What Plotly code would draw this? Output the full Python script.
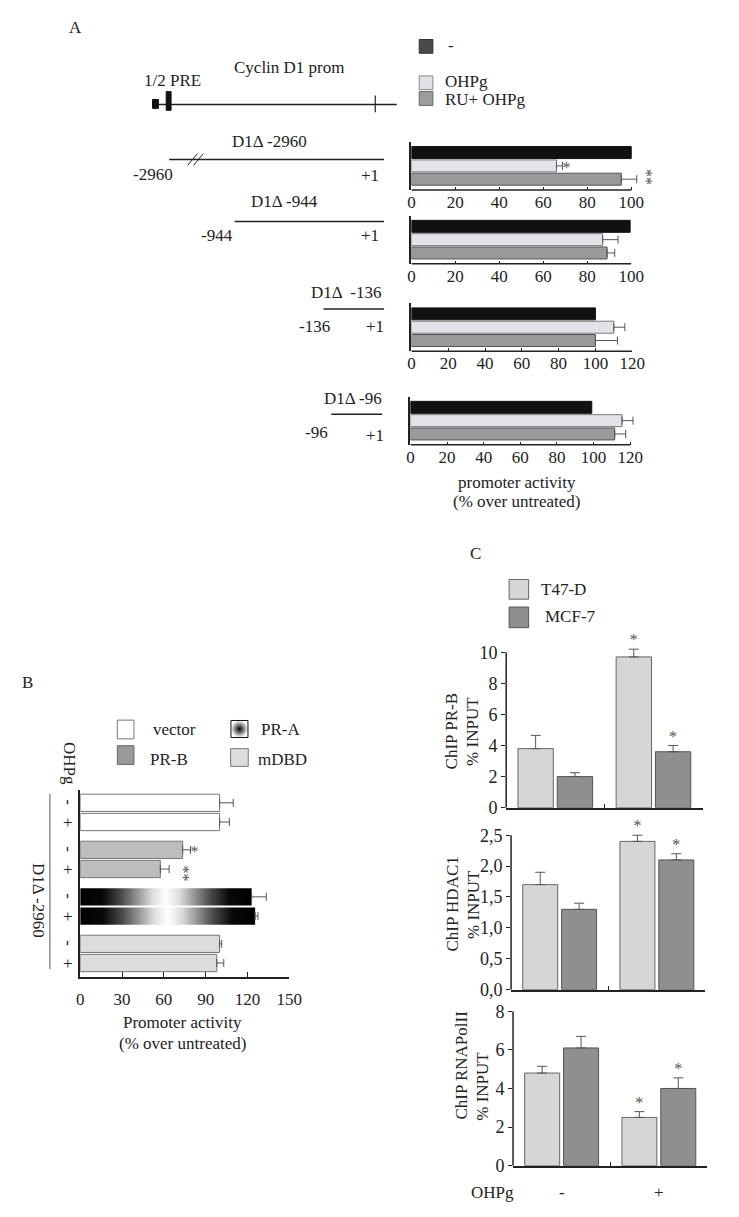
import plotly.graph_objects as go

W, H = 739, 1217
FONT = "Liberation Serif, Times New Roman, serif"
INK = "#222222"
ERR = "#555555"
STAR = "#555555"

# ---------------- data : panel A ----------------
a_conditions = ["-", "OHPg", "RU+ OHPg"]
a_constructs = ["D1Δ -2960", "D1Δ -944", "D1Δ  -136", "D1Δ -96"]
a_vals_2960 = [100, 66, 95.5]
a_err_2960 = [None, 2.7, 7]
a_vals_944 = [99.5, 87, 89]
a_err_944 = [None, 7, 3.5]
a_vals_136 = [100, 110, 100]
a_err_136 = [None, 6, 12]
a_vals_96 = [99, 115.5, 111.5]
a_err_96 = [None, 6, 6]
a_ticks_100 = [0, 20, 40, 60, 80, 100]
a_ticks_120 = [0, 20, 40, 60, 80, 100, 120]

# ---------------- data : panel B ----------------
b_constructs = ["vector", "PR-B", "PR-A", "mDBD"]
b_ohpg = ["-", "+"]
b_vector = [100, 100]
b_vector_err = [9.8, 7]
b_prb = [73.5, 57.5]
b_prb_err = [5.6, 6.3]
b_pra = [123, 125.5]
b_pra_err = [10.5, 2]
b_mdbd = [100, 98]
b_mdbd_err = [1.5, 5]
b_ticks = [0, 30, 60, 90, 120, 150]

# ---------------- data : panel C ----------------
c_lines = ["T47-D", "MCF-7"]
c_ohpg = ["-", "+"]
c_prb_t47 = [3.8, 9.7]
c_prb_t47_err = [0.85, 0.5]
c_prb_mcf = [2.0, 3.6]
c_prb_mcf_err = [0.25, 0.4]
c_hdac_t47 = [1.7, 2.4]
c_hdac_t47_err = [0.2, 0.1]
c_hdac_mcf = [1.3, 2.1]
c_hdac_mcf_err = [0.1, 0.1]
c_pol_t47 = [4.8, 2.5]
c_pol_t47_err = [0.35, 0.3]
c_pol_mcf = [6.1, 4.0]
c_pol_mcf_err = [0.6, 0.55]
c_prb_ticks = [0, 2, 4, 6, 8, 10]
c_hdac_ticks = [0, 0.5, 1.0, 1.5, 2.0, 2.5]
c_hdac_ticktext = ["0,0", "0,5", "1,0", "1,5", "2,0", "2,5"]
c_pol_ticks = [0, 2, 4, 6, 8]

# ---------------- helpers ----------------
def aid(n):
    return "" if n == 1 else str(n)


def xd(a, b):
    return [a / W, b / W]


def yd(top, bottom):
    return [1 - bottom / H, 1 - top / H]


fig = go.Figure()
layout = dict(
    width=W, height=H, autosize=False,
    margin=dict(l=0, r=0, t=0, b=0, pad=0),
    paper_bgcolor="white", plot_bgcolor="rgba(0,0,0,0)",
    showlegend=False, barmode="overlay",
    font=dict(family=FONT, size=17, color=INK),
)
ann = []
shp = []


def txt(x, y, s, size=17, xanchor="center", angle=0, xref="x9", yref="y9",
        color=INK, xshift=0, yshift=0):
    ann.append(dict(x=x, y=y, text=s, xref=xref, yref=yref, showarrow=False,
                    xanchor=xanchor, yanchor="middle", textangle=angle,
                    font=dict(family=FONT, size=size, color=color),
                    xshift=xshift, yshift=yshift))


def line(x0, y0, x1, y1, w=1.5, color=INK):
    shp.append(dict(type="line", x0=x0, y0=y0, x1=x1, y1=y1, xref="x9", yref="y9",
                    line=dict(color=color, width=w)))


def rect(x0, y0, x1, y1, fill, edge, w=1):
    shp.append(dict(type="rect", x0=x0, y0=y0, x1=x1, y1=y1, xref="x9", yref="y9",
                    fillcolor=fill, line=dict(color=edge, width=w)))


def xaxis_line(n, xmax):
    i = aid(n)
    shp.append(dict(type="line", xref="x" + i, yref="y" + i + " domain", x0=0, x1=xmax,
                    y0=0, y1=0, line=dict(color=INK, width=1.5)))


def yaxis_line(n, ymax):
    i = aid(n)
    shp.append(dict(type="line", xref="x" + i + " domain", yref="y" + i, x0=0, x1=0,
                    y0=0, y1=ymax, line=dict(color=INK, width=1.5)))


def stars(n, xs, ys, pos):
    fig.add_trace(go.Scatter(
        x=xs, y=ys, mode="text", text=["*"] * len(xs), textposition=pos,
        textfont=dict(family=FONT, size=16, color=STAR), cliponaxis=False,
        xaxis="x" + aid(n), yaxis="y" + aid(n), hoverinfo="skip"))


def add_herr(n, vals, errs, pos):
    xs = [v for v, e in zip(vals, errs) if e is not None]
    ys = [p for p, e in zip(pos, errs) if e is not None]
    es = [e for e in errs if e is not None]
    fig.add_trace(go.Scatter(
        x=xs, y=ys, mode="markers", marker=dict(size=1, color="rgba(0,0,0,0)"),
        error_x=dict(type="data", array=es, arrayminus=[0] * len(es), symmetric=False,
                     color=ERR, thickness=1, width=4),
        cliponaxis=False, xaxis="x" + aid(n), yaxis="y" + aid(n), hoverinfo="skip"))


def add_verr(n, vals, errs, pos):
    fig.add_trace(go.Scatter(
        x=pos, y=vals, mode="markers", marker=dict(size=1, color="rgba(0,0,0,0)"),
        error_y=dict(type="data", array=errs, arrayminus=[0] * len(errs), symmetric=False,
                     color=ERR, thickness=1, width=5),
        cliponaxis=False, xaxis="x" + aid(n), yaxis="y" + aid(n), hoverinfo="skip"))


# ---------------- panel A bars ----------------
# (values, errors, ticks, nominal axis end, px of 0, px of axis end, y px top/bottom)
a_panels = [
    (a_vals_2960, a_err_2960, a_ticks_100, 100, 417, 642, (134, 183)),
    (a_vals_944, a_err_944, a_ticks_100, 100, 417, 642, (209, 258)),
    (a_vals_136, a_err_136, a_ticks_120, 120, 417, 643, (298, 347)),
    (a_vals_96, a_err_96, a_ticks_120, 120, 416, 641, (393, 442)),
]
a_pos = [2, 1, 0]
a_fill = ["#111111", "#e4e2e6", "#9a9a9a"]
a_edge = ["#111111", "#7a7a7a", "#555555"]

for k, (vals, errs, ticks, xend, p0, p1, ypx) in enumerate(a_panels):
    n = k + 1
    i = aid(n)
    reach = max(v + (e or 0) for v, e in zip(vals, errs))
    xmax = max(xend, reach + 0.6)
    scale = (p1 - p0) / xend
    fig.add_trace(go.Bar(x=vals, y=a_pos, orientation="h", width=0.9,
                         marker=dict(color=a_fill, line=dict(color=a_edge, width=1)),
                         xaxis="x" + i, yaxis="y" + i, hoverinfo="skip"))
    add_herr(n, vals, errs, a_pos)
    layout["xaxis" + i] = dict(domain=xd(p0, p0 + scale * xmax), range=[0, xmax],
                               anchor="y" + i, showgrid=False, zeroline=False,
                               showline=False, ticks="inside", ticklen=3,
                               tickcolor=INK, tickvals=ticks,
                               tickfont=dict(family=FONT, size=17, color=INK))
    layout["yaxis" + i] = dict(domain=yd(*ypx), range=[-0.81, 2.81], anchor="x" + i,
                               showgrid=False, zeroline=False, showline=True,
                               linecolor=INK, linewidth=1.5, showticklabels=False, ticks="")
    xaxis_line(n, xend)

# stars panel A (first construct): one on OHPg, two stacked on RU+OHPg
ax_end = [v + e for v, e in zip(a_vals_2960[1:], a_err_2960[1:])]
stars(1, [ax_end[0]], [a_pos[1] - 0.22], "middle right")
txt(ax_end[1], a_pos[2], "**", 16, xanchor="left", angle=90, xref="x", yref="y",
    color=STAR, xshift=0, yshift=2)

# ---------------- panel B ----------------
b_pos = [g * 2.45 + k for g in range(4) for k in (0, 1)]
fig.add_trace(go.Bar(x=b_vector, y=b_pos[0:2], orientation="h", width=0.9,
                     marker=dict(color="white", line=dict(color="#777", width=1)),
                     xaxis="x5", yaxis="y5", hoverinfo="skip"))
fig.add_trace(go.Bar(x=b_prb, y=b_pos[2:4], orientation="h", width=0.9,
                     marker=dict(color="#bdbdbd", line=dict(color="#777", width=1)),
                     xaxis="x5", yaxis="y5", hoverinfo="skip"))
pra_scale = [[0, "#000000"], [0.13, "#080808"], [0.24, "#4a4a4a"], [0.34, "#9a9a9a"],
             [0.42, "#dcdcdc"], [0.5, "#ffffff"], [0.58, "#dcdcdc"], [0.66, "#9a9a9a"],
             [0.76, "#4a4a4a"], [0.87, "#080808"], [1, "#000000"]]
for v, p in zip(b_pra, b_pos[4:6]):
    fig.add_trace(go.Scatter(
        x=[0, v, v, 0, 0], y=[p - 0.45, p - 0.45, p + 0.45, p + 0.45, p - 0.45],
        mode="lines", line=dict(width=0, color="rgba(0,0,0,0)"), fill="toself",
        fillgradient=dict(type="horizontal", colorscale=pra_scale),
        xaxis="x5", yaxis="y5", hoverinfo="skip"))
fig.add_trace(go.Bar(x=b_mdbd, y=b_pos[6:8], orientation="h", width=0.9,
                     marker=dict(color="#dcdcdc", line=dict(color="#777", width=1)),
                     xaxis="x5", yaxis="y5", hoverinfo="skip"))
add_herr(5, b_vector + b_prb + b_pra + b_mdbd,
         b_vector_err + b_prb_err + b_pra_err + b_mdbd_err, b_pos)
layout["xaxis5"] = dict(domain=xd(78, 292), range=[0, 150], anchor="y5",
                        showgrid=False, zeroline=False, showline=True, linecolor=INK,
                        linewidth=1.5, ticks="inside", ticklen=5, tickcolor=INK,
                        tickvals=b_ticks, ticklabelstandoff=6,
                        tickfont=dict(family=FONT, size=17, color=INK))
layout["yaxis5"] = dict(domain=yd(793, 983), range=[9.07, -0.67], anchor="x5",
                        showgrid=False, zeroline=False, showline=True, linecolor=INK,
                        linewidth=1.5, showticklabels=False, ticks="")

for p, lab in zip(b_pos, b_ohpg * 4):
    txt(66, p, lab, 17, yref="y5", angle=90 if lab == "-" else 0)

b_end = [v + e for v, e in zip(b_prb, b_prb_err)]
stars(5, [b_end[0]], [b_pos[2] + 0.15], "middle right")
txt(b_end[1], b_pos[3], "**", 16, xanchor="left", angle=90, xref="x5", yref="y5",
    color=STAR, xshift=4, yshift=-4)

# ---------------- panel C ----------------
c_groups = [0.5, 1.5]
c_t47_pos = [g - 0.2 for g in c_groups]
c_mcf_pos = [g + 0.2 for g in c_groups]
# (axis n, t47, err, mcf, err, nominal top, ticks, ticktext, x px, y px of 0, y px of top)
c_panels = [
    (6, c_prb_t47, c_prb_t47_err, c_prb_mcf, c_prb_mcf_err, 10, c_prb_ticks, None,
     (514, 715), 811, 653),
    (7, c_hdac_t47, c_hdac_t47_err, c_hdac_mcf, c_hdac_mcf_err, 2.5, c_hdac_ticks,
     c_hdac_ticktext, (519, 718), 996, 839),
    (8, c_pol_t47, c_pol_t47_err, c_pol_mcf, c_pol_mcf_err, 8, c_pol_ticks, None,
     (521, 720), 1175, 1018),
]
for n, t, te, m, me, ytop, yt, ytt, xpx, y0px, y1px in c_panels:
    i = aid(n)
    reach = max([a + b for a, b in zip(t, te)] + [a + b for a, b in zip(m, me)])
    ymax = max(ytop, reach * 1.01)
    scale = (y0px - y1px) / ytop
    fig.add_trace(go.Bar(x=c_t47_pos, y=t, width=0.36,
                         marker=dict(color="#d6d6d8", line=dict(color="#666", width=1)),
                         xaxis="x" + i, yaxis="y" + i, hoverinfo="skip"))
    fig.add_trace(go.Bar(x=c_mcf_pos, y=m, width=0.36,
                         marker=dict(color="#8f8f8f", line=dict(color="#555", width=1)),
                         xaxis="x" + i, yaxis="y" + i, hoverinfo="skip"))
    add_verr(n, t, te, c_t47_pos)
    add_verr(n, m, me, c_mcf_pos)
    layout["xaxis" + i] = dict(domain=xd(*xpx), range=[0, 2], anchor="y" + i,
                               showgrid=False, zeroline=False, showline=True,
                               linecolor=INK, linewidth=1.5, ticks="inside", ticklen=4,
                               tickcolor=INK, tickvals=[1, 2], showticklabels=False)
    ydict = dict(domain=yd(y0px - scale * ymax, y0px), range=[0, ymax], anchor="x" + i,
                 showgrid=False, zeroline=False, showline=False,
                 ticks="outside", ticklen=4, tickcolor=INK, tickvals=yt,
                 tickfont=dict(family=FONT, size=18, color=INK))
    if ytt:
        ydict["ticktext"] = ytt
    layout["yaxis" + i] = ydict
    yaxis_line(n, ytop)
    # significance stars on treated (+) bars
    stars(n, [c_t47_pos[1], c_mcf_pos[1]], [t[1] + te[1], m[1] + me[1]], "top center")

# overlay axis in pixel units for schematic / legends / labels
layout["xaxis9"] = dict(domain=[0, 1], range=[0, W], visible=False, anchor="y9")
layout["yaxis9"] = dict(domain=[0, 1], range=[H, 0], visible=False, anchor="x9")
fig.add_trace(go.Scatter(x=[241], y=[731], mode="markers", xaxis="x9", yaxis="y9",
                         marker=dict(symbol="square", size=17, color="white",
                                     gradient=dict(type="radial", color="black"),
                                     line=dict(color="#111", width=1)),
                         hoverinfo="skip"))

# ---------------- panel A schematic ----------------
txt(73, 18, "A")
txt(292, 58, "Cyclin D1 prom")
txt(172, 72, "1/2 PRE")
line(152, 96, 402, 96)
rect(152, 91, 158, 100, "#111", "#111")
rect(166, 83, 171, 102, "#111", "#111")
line(380, 87, 380, 104, 1.2)

# legend A
rect(425, 30, 439, 44, "#4a4a4a", "#333")
rect(425, 67, 439, 81, "#e3e1e5", "#888")
rect(425, 83, 439, 97, "#9c9c9c", "#666")
txt(452, 36, a_conditions[0], xanchor="left")
txt(449, 73, a_conditions[1], xanchor="left")
txt(449, 91, a_conditions[2], xanchor="left")

# constructs
line(169, 152, 389, 152)
line(188, 158, 198, 146, 1)
line(194, 158, 204, 146, 1)
txt(272, 134, a_constructs[0])
txt(152, 167, "-2960")
txt(375, 168, "+1")

line(236, 215, 389, 215)
txt(287, 195, a_constructs[1])
txt(218, 229, "-944")
txt(375, 229, "+1")

line(327, 304, 389, 304)
txt(350, 287, a_constructs[2])
txt(318, 322, "-136")
txt(380, 322, "+1")

line(335, 411, 387, 411)
txt(357, 395, a_constructs[3])
txt(320, 430, "-96")
txt(380, 433, "+1")

txt(525, 480, "promoter activity")
txt(525, 500, "(% over untreated)")

# ---------------- panel B labels ----------------
txt(24, 684, "B")
rect(116, 722, 133, 741, "white", "#777")
rect(116, 748, 133, 767, "#999999", "#666")
rect(232, 751, 250, 769, "#dddddd", "#777")
txt(150, 732, b_constructs[0], xanchor="left")
txt(147, 762, b_constructs[1], xanchor="left")
txt(261, 732, b_constructs[2], xanchor="left")
txt(258, 762, b_constructs[3], xanchor="left")
txt(67, 766, "OHPg", angle=90)
txt(36, 905, "D1Δ -2960", angle=90)
line(47, 797, 47, 975, 1, "#555")
txt(183, 1029, "Promoter activity")
txt(183, 1051, "(% over untreated)")

# ---------------- panel C labels ----------------
txt(483, 553, "C")
rect(517, 579, 537, 599, "#d6d6d8", "#666")
rect(517, 607, 537, 628, "#8f8f8f", "#555")
txt(548, 589, c_lines[0], xanchor="left")
txt(552, 617, c_lines[1], xanchor="left")
txt(459, 733, "ChIP PR-B", angle=-90)
txt(480, 733, "% INPUT", angle=-90)
txt(459, 909, "ChIP HDAC1", angle=-90)
txt(480, 909, "% INPUT", angle=-90)
txt(468, 1073, "ChIP RNAPolII", angle=-90)
txt(489, 1094, "% INPUT", angle=-90)
txt(500, 1202, "OHPg")
for g, lab in zip(c_groups, c_ohpg):
    txt(g, 1202, lab, xref="x8")

layout["annotations"] = ann
layout["shapes"] = shp
fig.update_layout(**layout)
fig.write_html("out.html", config={"displayModeBar": False},
               post_script="document.body.style.margin='0';")
